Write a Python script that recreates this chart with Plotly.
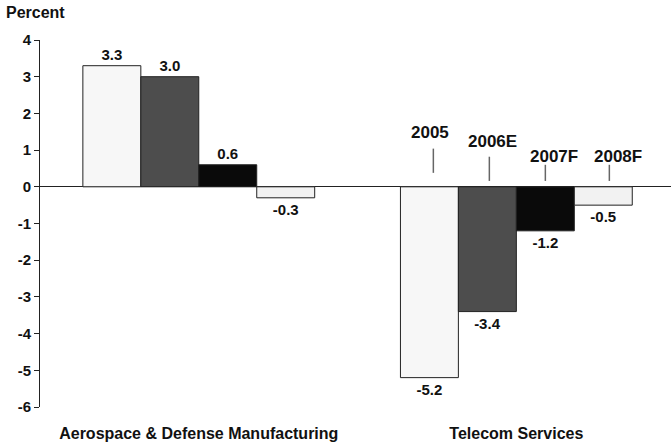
import plotly.graph_objects as go

categories = ["Aerospace & Defense Manufacturing", "Telecom Services"]
series_names = ["2005", "2006E", "2007F", "2008F"]
values = {
    "2005": [3.3, -5.2],
    "2006E": [3.0, -3.4],
    "2007F": [0.6, -1.2],
    "2008F": [-0.3, -0.5],
}
colors = {"2005": "#f7f7f7", "2006E": "#4d4d4d", "2007F": "#0a0a0a", "2008F": "#f2f2f2"}
y_ticks = [4, 3, 2, 1, 0, -1, -2, -3, -4, -5, -6]

FONT = "Liberation Sans, Arial, sans-serif"

fig = go.Figure()
for name in series_names:
    fig.add_trace(go.Bar(
        name=name, x=categories, y=values[name],
        marker=dict(color=colors[name], line=dict(color="#222222", width=1)),
        texttemplate="<b>%{y:.1f}</b>", textposition="outside",
        textfont=dict(family=FONT, size=15, color="#111111"),
        cliponaxis=False, showlegend=False,
    ))

# legend-like labels with leader lines above the Telecom Services bars
leg_text_y = [1.47, 1.23, 0.82, 0.82]
leg_text_dx = [-86, -24, 38, 102]
leg_line_dx = [-83, -27, 29, 93]
leg_line_y0 = [0.38, 0.16, 0.16, 0.16]
leg_line_y1 = [1.04, 0.82, 0.60, 0.60]
cat_index = 1
for i, name in enumerate(series_names):
    fig.add_annotation(
        x=categories[cat_index], y=leg_text_y[i], xref="x", yref="y",
        xshift=leg_text_dx[i], yanchor="middle",
        text="<b>" + name + "</b>", showarrow=False,
        font=dict(family=FONT, size=17, color="#111111"),
    )
    fig.add_shape(
        type="line", xref="x", yref="y", xsizemode="pixel", xanchor=cat_index,
        x0=leg_line_dx[i], x1=leg_line_dx[i],
        y0=leg_line_y0[i], y1=leg_line_y1[i],
        line=dict(color="#666666", width=1.5),
    )

fig.add_annotation(
    x=0, y=1, xref="paper", yref="paper", xanchor="left", yanchor="middle",
    xshift=-36, yshift=28,
    text="<b>Percent</b>", showarrow=False,
    font=dict(family=FONT, size=16, color="#111111"),
)

fig.update_layout(
    width=671, height=445,
    margin=dict(l=40, r=0, t=40, b=38),
    paper_bgcolor="white", plot_bgcolor="white",
    barmode="group", bargap=0.27, bargroupgap=0,
    font=dict(family=FONT, color="#111111"),
    xaxis=dict(
        range=[-0.5, 1.487], showline=False, showgrid=False,
        ticks="outside", ticklen=12, tickcolor="rgba(0,0,0,0)",
        tickfont=dict(family=FONT, size=16, color="#111111"),
        tickprefix="<b>", ticksuffix="</b>",
    ),
    yaxis=dict(
        range=[-6, 4], tickvals=y_ticks, ticktext=["<b>%d</b>" % v for v in y_ticks],
        showline=True, linecolor="#222222", linewidth=1,
        ticks="outside", ticklen=5, tickcolor="#222222",
        showgrid=False, zeroline=True, zerolinecolor="#222222", zerolinewidth=1,
        tickfont=dict(family=FONT, size=15, color="#111111"),
    ),
)

fig.write_html("out.html", config={"displayModeBar": False},
               post_script="document.body.style.margin='0';")
